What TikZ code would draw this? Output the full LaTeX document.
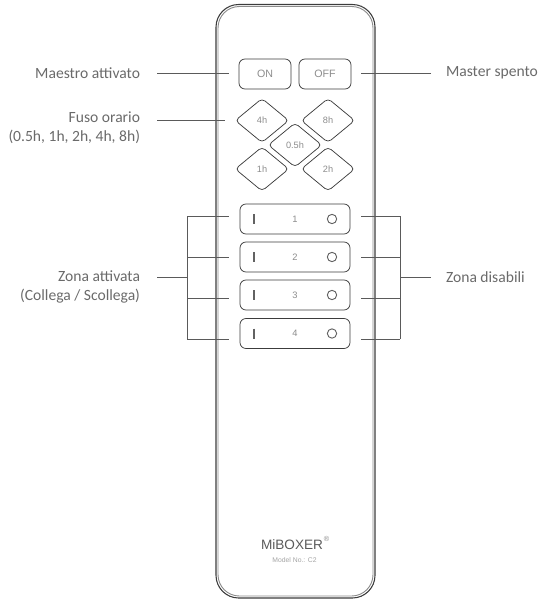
\documentclass[tikz,border=0pt]{standalone}
\usepackage{fontspec}
\setmainfont{Carlito}
\newfontfamily\btnfont{Liberation Sans}
\usepackage{tikz}
\usetikzlibrary{shapes.geometric}
\usetikzlibrary{calc}
\definecolor{labelgray}{HTML}{6A6A6A}
\definecolor{keygray}{HTML}{8C8C8C}
\definecolor{edgegray}{HTML}{3C3C3C}
\definecolor{wiregray}{HTML}{5A5A5A}
\tikzset{
	lbl/.style={inner sep=0pt,outer sep=0pt,text=labelgray,font=\fontsize{11.7pt}{14.4pt}\selectfont,align=right},
	keytext/.style={text=keygray,font=\btnfont\fontsize{8pt}{9pt}\selectfont},
	btn/.style={keytext,draw=edgegray,line width=0.55pt,rounded corners=4.5pt,inner sep=0pt,outer sep=0pt,minimum width=39pt,minimum height=22.5pt},
	zonebtn/.style={btn,minimum width=82.5pt,font=\btnfont\fontsize{7pt}{8pt}\selectfont},
	dia/.style={keytext,draw=edgegray,line width=0.55pt,diamond,rounded corners=3pt,inner sep=0pt,outer sep=0pt,minimum width=40pt,minimum height=33pt,font=\btnfont\fontsize{6.9pt}{8pt}\selectfont},
	wire/.style={draw=wiregray,line width=0.6pt}
}
\begin{document}
\begin{tikzpicture}[x=0.75pt,y=-0.75pt]
	\useasboundingbox (0,0) rectangle (541,599);
	
	%body
	\draw[edgegray,line width=0.8pt,rounded corners=17pt] (216,4.5) rectangle (375,598);
	\draw[keygray,line width=0.7pt,rounded corners=16pt] (218,6.5) rectangle (373,596);
	
	%master keys
	\node (btnOn) at (265,74)[btn] {ON};
	\node (btnOff) at (325,74)[btn] {OFF};
	
	%timer keys
	\node (dia4) at (262,120.5)[dia] {4h};
	\node (dia8) at (328,120.5)[dia] {8h};
	\node (dia05) at (295,145)[dia] {0.5h};
	\node (dia1) at (262,169)[dia] {1h};
	\node (dia2) at (328,169)[dia] {2h};
	
	%zone keys
	\foreach \n/\y/\w in {1/219/216,2/257/257,3/295/298,4/333.5/339}  {
		\node (zone\n) at (295,\y)[zonebtn] {\n};
		\draw[keygray!70!black,line width=1pt] ($(zone\n.west)+(14,-5)$) -- ($(zone\n.west)+(14,5)$);
		\draw[keygray!70!black,line width=0.7pt] ($(zone\n.east)+(-18,0)$) circle [radius=3.5pt];
		\coordinate (leftJ\n) at (187,\w);
		\coordinate (rightJ\n) at (400,\w);
		\draw[wire,shorten >=8.5pt] (leftJ\n) -- (leftJ\n -| zone\n.west);
		\draw[wire,shorten >=8.5pt] (rightJ\n) -- (rightJ\n -| zone\n.east);
	}
	
	%labels
	\node (lblOn) at (140,73)[lbl,anchor=east] {Maestro attivato};
	\node (lblOff) at (446,73)[lbl,anchor=west] {Master spento};
	\node (lblFuso) at (140,128)[lbl,anchor=east] {Fuso orario\\(0.5h, 1h, 2h, 4h, 8h)};
	\node (lblZonaOn) at (140,287)[lbl,anchor=east] {Zona attivata\\(Collega / Scollega)};
	\node (lblZonaOff) at (446,277)[lbl,anchor=west] {Zona disabili};
	
	%connectors
	\draw[wire,shorten <=12.75pt,shorten >=7.5pt] (lblOn.east) -- (lblOn.east -| btnOn.west);
	\draw[wire,shorten <=12.75pt,shorten >=7.5pt] (dia4.west -| lblFuso.east) -- (dia4.west);
	\draw[wire,shorten >=7.5pt,shorten <=11.25pt] (lblOff.west) -- (lblOff.west -| btnOff.east);
	\draw[wire] (leftJ1) -- (leftJ4);
	\draw[wire] (rightJ1) -- (rightJ4);
	\coordinate (leftMid) at (187,277);
	\coordinate (rightMid) at (400,277);
	\draw[wire,shorten >=12.75pt] (leftMid) -- (leftMid -| lblZonaOn.east);
	\draw[wire,shorten >=11.25pt] (rightMid) -- (lblZonaOff.west);
	
	%logo
	\node (logo) at (292,544.5)[inner sep=0pt,text=wiregray,font=\btnfont\fontsize{10.2pt}{11pt}\selectfont] {MiBOXER};
	\node (regMark) at (326.5,538.5)[inner sep=0pt,text=keygray,font=\btnfont\fontsize{5.5pt}{6pt}\selectfont] {®};
	\node (modelNo) at (294.5,560)[inner sep=0pt,text=keygray!80,font=\btnfont\fontsize{5.1pt}{6pt}\selectfont] {Model No.: C2};
	
\end{tikzpicture}
\end{document}
